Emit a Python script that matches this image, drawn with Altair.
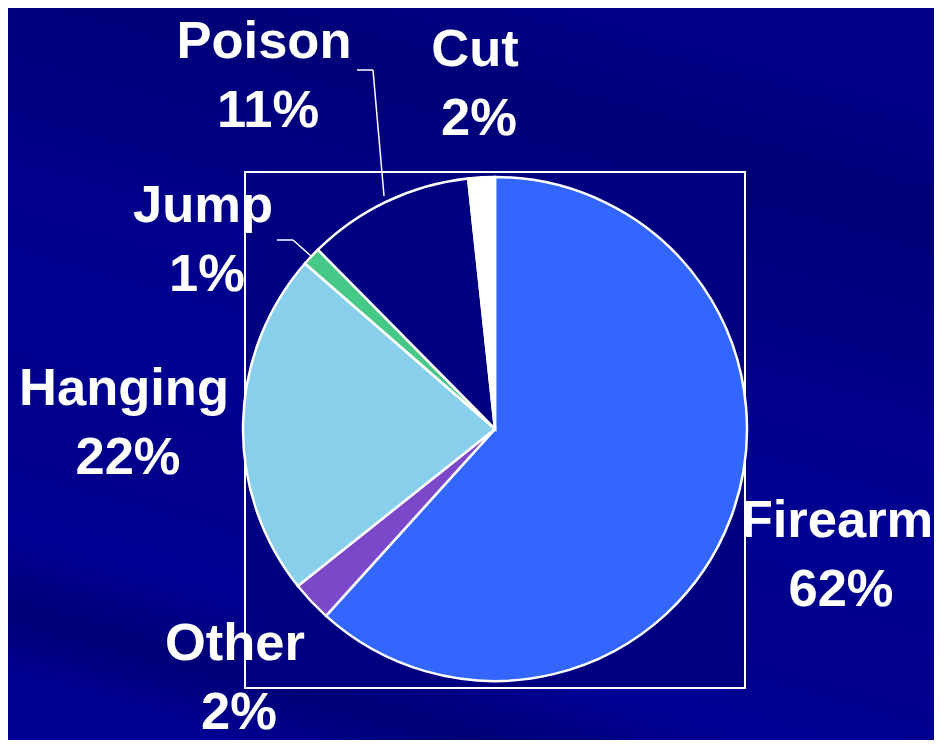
import altair as alt
import pandas as pd

# ---- data ----
categories = ["Firearm", "Other", "Hanging", "Jump", "Poison", "Cut"]
shares = [61.7, 2.6, 22.1, 1.2, 10.7, 1.7]          # slice sizes (angle-estimated)
label_pct = ["62%", "2%", "22%", "1%", "11%", "2%"]   # printed labels
slice_colors = ["#3366FF", "#7A48C8", "#87CFEA", "#46C886", "#000080", "#FFFFFF"]

pie_df = pd.DataFrame({"cat": categories, "share": shares,
                       "order": list(range(len(categories)))})
one = pd.DataFrame({"k": [0]})

W, H = 926, 732
FONT = "Liberation Sans"
FS = 52.5

# background with soft diagonal streaks
bg = alt.Chart(one).mark_rect(
    color=alt.Gradient(
        gradient="linear", x1=0.6, y1=0, x2=0.25, y2=1,
        stops=[
            alt.GradientStop(offset=0.0, color="#000088"),
            alt.GradientStop(offset=0.12, color="#000078"),
            alt.GradientStop(offset=0.25, color="#000080"),
            alt.GradientStop(offset=0.4, color="#00008C"),
            alt.GradientStop(offset=0.55, color="#000092"),
            alt.GradientStop(offset=0.7, color="#00008A"),
            alt.GradientStop(offset=0.82, color="#000096"),
            alt.GradientStop(offset=0.92, color="#000076"),
            alt.GradientStop(offset=1.0, color="#000092"),
        ],
    )
).encode(x=alt.value(0), x2=alt.value(W), y=alt.value(0), y2=alt.value(H))

# plot frame
frame = alt.Chart(one).mark_rect(
    fill="#000080", stroke="white", strokeWidth=2
).encode(x=alt.value(237), x2=alt.value(737), y=alt.value(164), y2=alt.value(680))

pie = alt.Chart(pie_df).mark_arc(
    radius=252, stroke="white", strokeWidth=2.5
).encode(
    theta=alt.Theta("share:Q", stack=True),
    order=alt.Order("order:Q"),
    color=alt.Color("cat:N", scale=alt.Scale(domain=categories, range=slice_colors),
                    legend=None),
    x=alt.value(487), y=alt.value(421),
)

# leader lines (Poison, Jump)
leaders = []
for (xa, ya, xb, yb) in [(349, 62, 365, 62), (365, 62, 376, 188),
                         (269, 232, 285, 232), (285, 232, 303, 248)]:
    leaders.append(alt.Chart(one).mark_rule(color="white", strokeWidth=1.5).encode(
        x=alt.value(xa), y=alt.value(ya), x2=alt.value(xb), y2=alt.value(yb)))

# label placement (layout only): centre x, first-line baseline
label_pos = {
    "Firearm": (829, 529),
    "Other": (227, 652),
    "Hanging": (116, 397),
    "Jump": (195, 214),
    "Poison": (256, 50),
    "Cut": (467, 58),
}
texts = []
for cat, pct in zip(categories, label_pct):
    cx, by = label_pos[cat]
    for i, line in enumerate([cat, pct]):
        texts.append(alt.Chart(one).mark_text(
            text=line, font=FONT, fontSize=FS, fontWeight="bold", color="white",
            align="center", baseline="alphabetic"
        ).encode(x=alt.value(cx + (4 if i else 0)), y=alt.value(by + 69 * i)))

chart = alt.layer(bg, frame, pie, *leaders, *texts).properties(
    width=W, height=H, padding=0, background="#000088",
    autosize=alt.AutoSizeParams(type="fit", contains="padding"),
).configure_view(stroke=None)

chart.save("out.html", embed_options={"renderer": "svg", "actions": False})
